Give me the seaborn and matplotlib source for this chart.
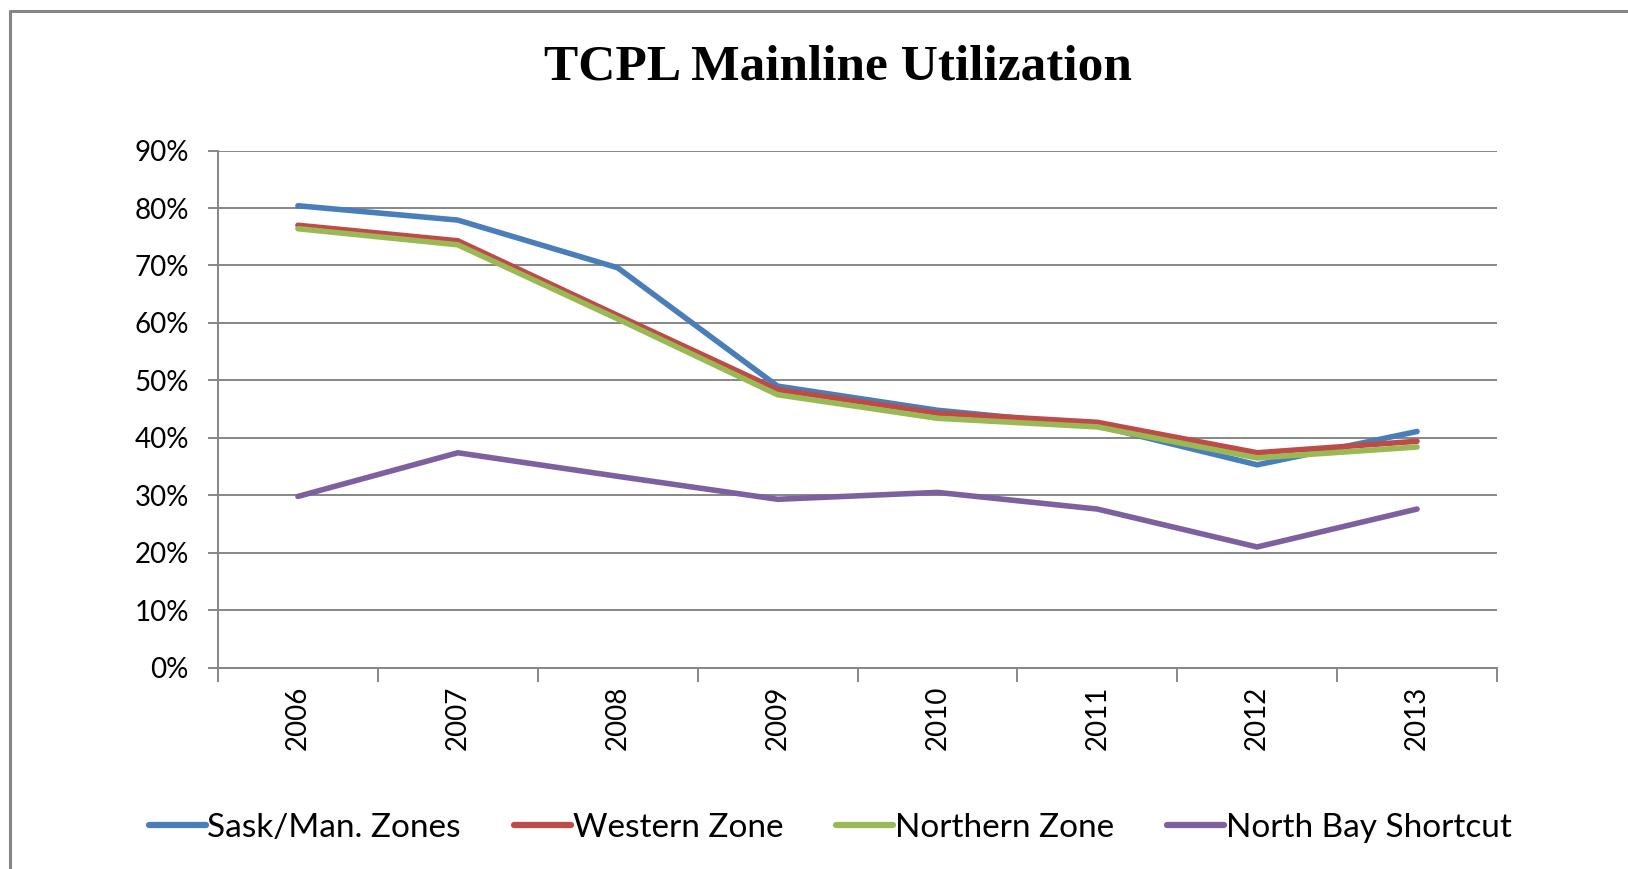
import matplotlib
matplotlib.use("Agg")
import matplotlib.pyplot as plt
import seaborn as sns
import pandas as pd
import numpy as np
from matplotlib.ticker import FixedLocator, PercentFormatter
from matplotlib.lines import Line2D

years = ["2006", "2007", "2008", "2009", "2010", "2011", "2012", "2013"]
sask_man = [80.4, 77.9, 69.6, 49.0, 44.8, 42.1, 35.3, 41.1]
western = [77.0, 74.3, 61.3, 48.4, 44.3, 42.7, 37.4, 39.4]
northern = [76.4, 73.6, 60.7, 47.5, 43.4, 41.9, 36.5, 38.4]
north_bay = [29.8, 37.4, 33.3, 29.3, 30.5, 27.6, 21.0, 27.6]
series_names = ["Sask/Man. Zones", "Western Zone", "Northern Zone", "North Bay Shortcut"]
colors = ["#4A7EBB", "#BE4B48", "#98B954", "#7D60A0"]

rows = []
for name, vals in zip(series_names, [sask_man, western, northern, north_bay]):
    for i, (y, v) in enumerate(zip(years, vals)):
        rows.append({"pos": i, "year": y, "value": v, "series": name})
df = pd.DataFrame(rows)

sns.set_theme(style="white")
plt.rcParams["font.family"] = ["Lato", "DejaVu Sans"]
plt.rcParams["text.color"] = "black"
plt.rcParams["xtick.color"] = "black"
plt.rcParams["ytick.color"] = "black"

fig = plt.figure(figsize=(16.28, 8.69), dpi=100)
ax = fig.add_axes([218/1628, 1-667.6/869, (1497-218)/1628, (667.6-150.6)/869])

sns.lineplot(data=df, x="pos", y="value", hue="series", hue_order=series_names,
             palette=colors, linewidth=4.0, ax=ax, legend=False,
             solid_capstyle="round", solid_joinstyle="miter")

ax.set_xlim(-0.5, len(years) - 0.5)
ax.set_ylim(0, 90)
ax.set_yticks(np.arange(0, 91, 10))
ax.yaxis.set_major_formatter(PercentFormatter(decimals=0))
ax.yaxis.grid(True, color="#868686", linewidth=1.4)
ax.set_axisbelow(True)

ax.xaxis.set_major_locator(FixedLocator(np.arange(-0.5, len(years), 1.0)))
ax.set_xticklabels([])
ax.xaxis.set_minor_locator(FixedLocator(np.arange(len(years))))
ax.set_xticklabels(years, minor=True, rotation=90, fontsize=20)
ax.tick_params(axis="x", which="major", length=10, width=1.4, color="#868686", direction="out", bottom=True)
ax.tick_params(axis="x", which="minor", length=0, pad=13, labelcolor="black")
ax.tick_params(axis="y", length=7, width=1.4, color="#868686", direction="out", left=True,
               labelsize=20, pad=14, labelcolor="black")

ax.set_xlabel("")
ax.set_ylabel("")
for s in ["top", "right"]:
    ax.spines[s].set_visible(False)
for s in ["left", "bottom"]:
    ax.spines[s].set_color("#868686")
    ax.spines[s].set_linewidth(1.4)

fig.text(838/1628, 1 - 68/869, "TCPL Mainline Utilization", ha="center", va="center",
         fontsize=37, fontweight="bold", color="black",
         family=["Liberation Serif", "DejaVu Serif"])

handles = [Line2D([0], [0], color=c, linewidth=4.5, solid_capstyle="round") for c in colors]
leg = fig.legend(handles, series_names, loc="center", bbox_to_anchor=(0.51, 1 - 828/869),
                 ncol=4, frameon=False, fontsize=24, handlelength=1.7, handletextpad=0.05,
                 columnspacing=1.6)
for t in leg.get_texts():
    t.set_color("black")

# outer chart border (top and left visible)
fig.add_artist(Line2D([10/1628, 1.0], [1 - 11/869, 1 - 11/869], transform=fig.transFigure,
                      color="#868686", linewidth=2.2))
fig.add_artist(Line2D([10/1628, 10/1628], [1 - 11/869, 0.0], transform=fig.transFigure,
                      color="#868686", linewidth=2.2))

fig.savefig("out.png", dpi=100, facecolor="white")
